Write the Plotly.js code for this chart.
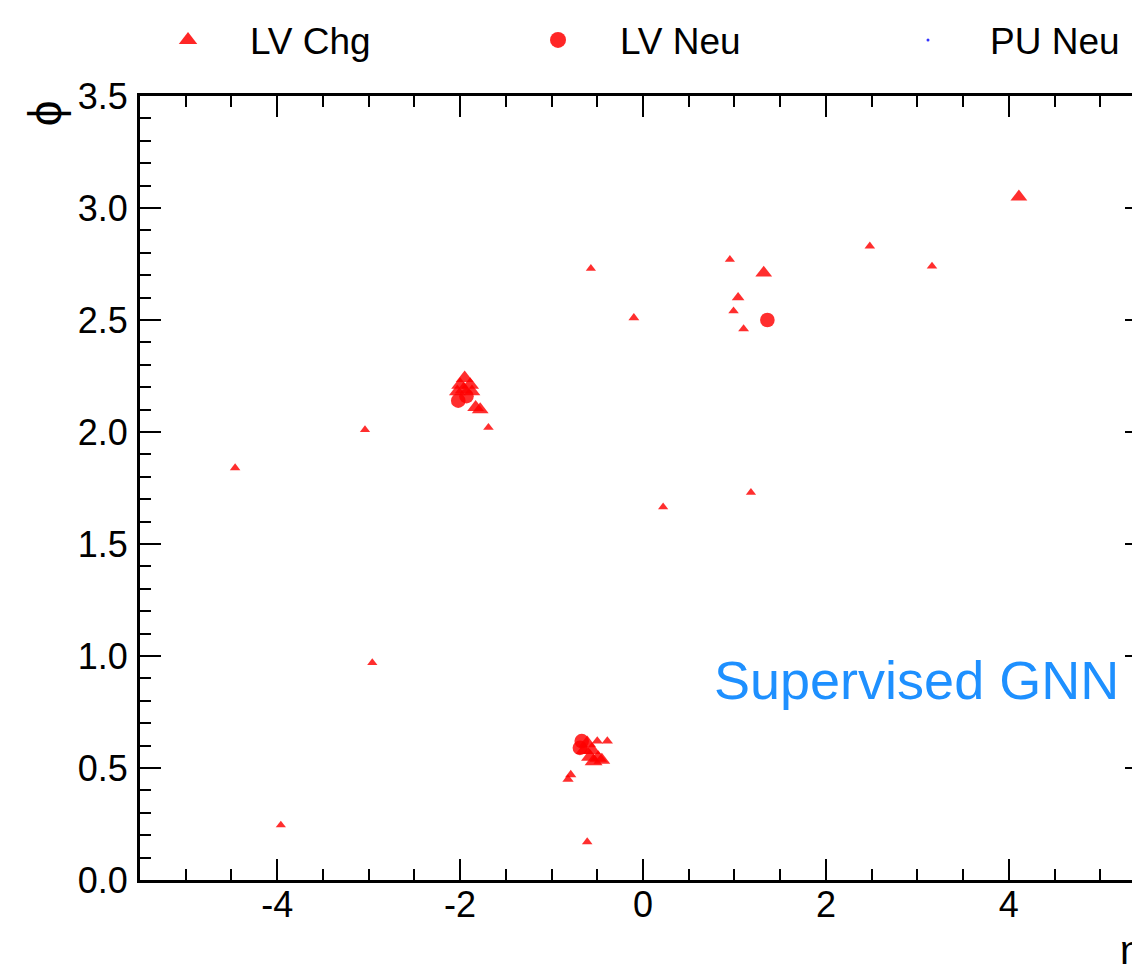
<!DOCTYPE html>
<html>
<head>
<meta charset="utf-8">
<script src="https://cdn.plot.ly/plotly-3.0.1.min.js"></script>
<style>
html,body{margin:0;padding:0;overflow:hidden;background:#fff;}
#chart{width:1300px;height:978px;}
</style>
</head>
<body>
<div id="chart"></div>
<script>
// LV charged particles (eta, phi, pT-like weight)
const chgEta = [2.48, 3.16, -0.57, 0.95, 1.04, 0.99, 1.10, -0.10, -3.04, -1.69, -4.46, 1.18, 0.22, -2.96, -3.96, -0.61, -0.82, -0.79, -0.50, -0.39,
                4.11, 1.32,
                -1.95, -2.00, -1.89, -1.96, -2.03, -1.87, -1.83, -1.78,
                -0.61, -0.64, -0.56, -0.58, -0.49, -0.54, -0.45];
const chgPhi = [2.83, 2.74, 2.73, 2.77, 2.60, 2.54, 2.46, 2.51, 2.01, 2.02, 1.84, 1.73, 1.665, 0.97, 0.245, 0.17, 0.45, 0.47, 0.62, 0.62,
                3.05, 2.71,
                2.24, 2.21, 2.21, 2.19, 2.18, 2.18, 2.11, 2.10,
                0.61, 0.58, 0.58, 0.55, 0.545, 0.53, 0.535];
const chgPt  = [0.4, 0.4, 0.3, 0.3, 1.0, 0.4, 0.5, 0.5, 0.3, 0.4, 0.4, 0.3, 0.3, 0.3, 0.3, 0.4, 0.6, 0.6, 0.6, 0.6,
                2.2, 2.2,
                2.5, 2.5, 2.5, 2.5, 2.2, 2.2, 2.2, 2.2,
                2.5, 2.5, 2.5, 2.5, 2.5, 2.5, 2.2];
// LV neutral particles
const neuEta = [1.36, -2.02, -1.93, -0.69, -0.67];
const neuPhi = [2.50, 2.14, 2.16, 0.59, 0.62];
const neuPt  = [2.2, 2.2, 2.2, 2.2, 2.2];
// PU neutral particles (none inside the view)
const puEta = [null];
const puPhi = [null];

const seriesNames = ["LV Chg", "LV Neu", "PU Neu"];

const xTickVals = [-4, -2, 0, 2, 4];
const xTickText = ["-4", "-2", "0", "2", "4"];

function sizeOf(pt){ return 8 + 3 * pt; }

const FONT = "Liberation Sans, Arial, Helvetica, sans-serif";
const RED = "rgb(255,0,0)";

const traces = [
  {x: chgEta, y: chgPhi, name: seriesNames[0], legendgroup: "chg", showlegend: false, type: "scatter", mode: "markers",
   marker: {symbol: "triangle-up", color: RED, opacity: 0.82, size: chgPt.map(sizeOf), line: {width: 0}}},
  {x: neuEta, y: neuPhi, name: seriesNames[1], legendgroup: "neu", showlegend: false, type: "scatter", mode: "markers",
   marker: {symbol: "circle", color: RED, opacity: 0.82, size: neuPt.map(sizeOf), line: {width: 0}}},
  {x: puEta, y: puPhi, name: seriesNames[2], legendgroup: "pu", showlegend: true, legendrank: 3, type: "scatter", mode: "markers",
   marker: {symbol: "circle", color: "rgb(0,0,255)", opacity: 0.8, size: 3, line: {width: 0}}},
  // legend keys (no data) at the reference's key size
  {x: [null], y: [null], name: seriesNames[0], legendgroup: "chg", legendrank: 1, type: "scatter", mode: "markers",
   marker: {symbol: "triangle-up", color: RED, opacity: 0.85, size: 16, line: {width: 0}}},
  {x: [null], y: [null], name: seriesNames[1], legendgroup: "neu", legendrank: 2, type: "scatter", mode: "markers",
   marker: {symbol: "circle", color: RED, opacity: 0.85, size: 16, line: {width: 0}}}
];

const axisCommon = {
  showgrid: false, zeroline: false, showline: true, linecolor: "black", linewidth: 3,
  mirror: "allticks", ticks: "inside", tickcolor: "black", tickwidth: 2,
  tickfont: {family: FONT, size: 36, color: "black"}
};

const layout = {
  width: 1300, height: 978,
  margin: {l: 140, r: 154, t: 96, b: 98, autoexpand: false},
  paper_bgcolor: "white", plot_bgcolor: "white",
  showlegend: true,
  legend: {orientation: "h", x: -0.0139, xanchor: "left", y: 1.071, yanchor: "middle",
           font: {family: FONT, size: 37, color: "black"}, entrywidth: 241, entrywidthmode: "pixels",
           itemwidth: 114, bgcolor: "rgba(0,0,0,0)", itemsizing: "trace", traceorder: "normal"},
  xaxis: Object.assign({}, axisCommon, {
    range: [-5.5, 5.5], tickmode: "array", tickvals: xTickVals, ticktext: xTickText, ticklen: 21,
    minor: {dtick: 0.5, ticklen: 11, ticks: "inside", tickcolor: "black", tickwidth: 2},
    ticklabelstandoff: -9
  }),
  yaxis: Object.assign({}, axisCommon, {
    range: [0, 3.5], dtick: 0.5, tick0: 0, tickformat: ".1f", ticklen: 21,
    minor: {dtick: 0.1, ticklen: 11, ticks: "inside", tickcolor: "black", tickwidth: 2},
    ticklabelstandoff: 2
  }),
  annotations: [
    {text: "ϕ", xref: "paper", yref: "paper", x: -0.0944, y: 0.978, xanchor: "center", yanchor: "middle",
     textangle: -90, showarrow: false, font: {family: FONT, size: 46, color: "black"}},
    {text: "η", xref: "paper", yref: "paper", x: 0.972, y: -0.089, xanchor: "left", yanchor: "middle",
     showarrow: false, font: {family: FONT, size: 40, color: "black"}},
    {text: "Supervised GNN", xref: "paper", yref: "paper", x: 0.5686, y: 0.255, xanchor: "left", yanchor: "middle",
     showarrow: false, font: {family: FONT, size: 54, color: "rgb(30,144,255)"}}
  ]
};

Plotly.newPlot("chart", traces, layout, {displayModeBar: false, staticPlot: true});
</script>
</body>
</html>
